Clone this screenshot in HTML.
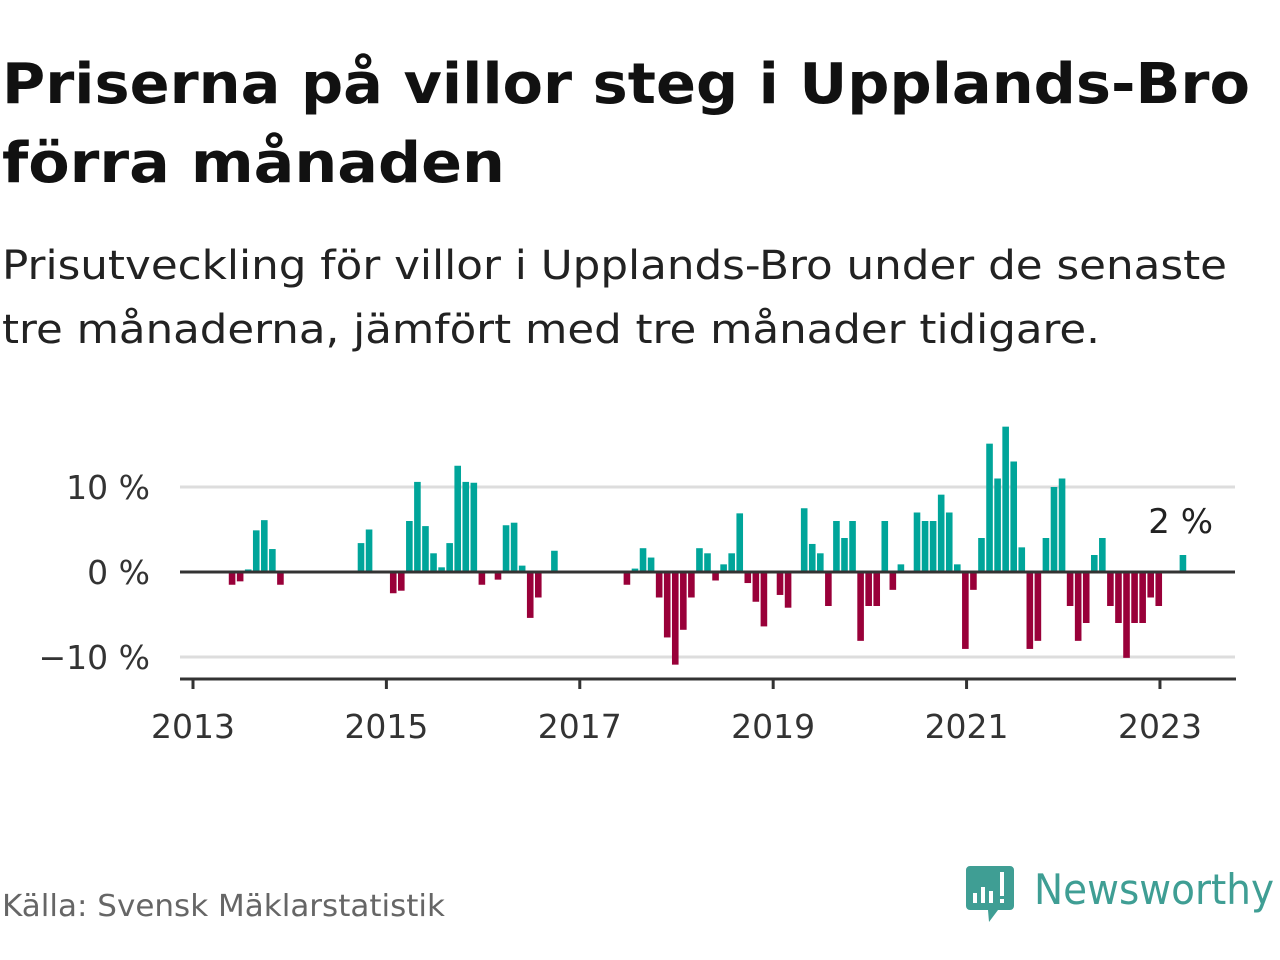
<!DOCTYPE html>
<html><head><meta charset="utf-8"><style>
html,body{margin:0;padding:0;background:#fff;width:1280px;height:960px;overflow:hidden}
body{font-family:"DejaVu Sans","Liberation Sans",sans-serif;color:#111}
</style></head><body>
<svg width="1280" height="960" xmlns="http://www.w3.org/2000/svg" font-family="DejaVu Sans, Liberation Sans, sans-serif">
<text x="2" y="103" font-size="56" font-weight="bold" fill="#111" textLength="1248" lengthAdjust="spacingAndGlyphs">Priserna på villor steg i Upplands-Bro</text>
<text x="2" y="182" font-size="56" font-weight="bold" fill="#111" textLength="503" lengthAdjust="spacingAndGlyphs">förra månaden</text>
<text x="2" y="279" font-size="40" fill="#222" textLength="1225" lengthAdjust="spacingAndGlyphs">Prisutveckling för villor i Upplands-Bro under de senaste</text>
<text x="2" y="343" font-size="40" fill="#222" textLength="1098" lengthAdjust="spacingAndGlyphs">tre månaderna, jämfört med tre månader tidigare.</text>
<g id="grid"></g>
<g id="bars"></g>
<g id="axes"></g>
<text x="1213" y="533" font-size="34" fill="#222" text-anchor="end">2 %</text>
<text x="2" y="916" font-size="30" fill="#666" textLength="443" lengthAdjust="spacingAndGlyphs">Källa: Svensk Mäklarstatistik</text>
<g>
<path d="M970 866 H1010 a4 4 0 0 1 4 4 V906 a4 4 0 0 1 -4 4 H998 L989 922 L988 910 H970 a4 4 0 0 1 -4 -4 V870 a4 4 0 0 1 4 -4Z" fill="#3f9e94"/>
<rect x="973" y="893" width="4" height="10" fill="#fff"/><rect x="981" y="887" width="4" height="16" fill="#fff"/><rect x="989" y="891" width="4" height="12" fill="#fff"/><rect x="1000" y="872" width="4" height="24" fill="#fff"/><rect x="1000" y="899" width="4" height="4" fill="#fff"/>
<text x="1034" y="904" font-size="42" fill="#3f9e94" textLength="240" lengthAdjust="spacingAndGlyphs">Newsworthy</text>
</g>
</svg>
<script>
const months=[5,6,7,8,9,10,11,21,22,25,26,27,28,29,30,31,32,33,34,35,36,38,39,40,41,42,43,45,54,55,56,57,58,59,60,61,62,63,64,65,66,67,68,69,70,71,73,74,76,77,78,79,80,81,82,83,84,85,86,87,88,90,91,92,93,94,95,96,97,98,99,100,101,102,103,104,105,106,107,108,109,110,111,112,113,114,115,116,117,118,119,120,123];
const values=[-1.5,-1.1,0.3,4.9,6.1,2.7,-1.5,3.4,5.0,-2.5,-2.2,6.0,10.6,5.4,2.2,0.55,3.4,12.5,10.6,10.5,-1.5,-0.9,5.5,5.8,0.75,-5.4,-3.0,2.5,-1.5,0.4,2.8,1.7,-3.0,-7.7,-10.9,-6.8,-3.0,2.8,2.2,-1.0,0.9,2.2,6.9,-1.3,-3.5,-6.4,-2.7,-4.2,7.5,3.3,2.2,-4.0,6.0,4.0,6.0,-8.1,-4.0,-4.0,6.0,-2.1,0.9,7.0,6.0,6.0,9.1,7.0,0.9,-9.05,-2.1,4.0,15.1,11.0,17.1,13.0,2.9,-9.05,-8.1,4.0,10.0,11.0,-4.0,-8.1,-6.0,2.0,4.0,-4.0,-6.0,-10.1,-6.0,-6.0,-3.0,-4.0,2.0];
const yTicks=[10,0,-10];
const yTickLabels=["10 %","0 %","\u221210 %"];
const xTickYears=[2013,2015,2017,2019,2021,2023];
const NS='http://www.w3.org/2000/svg';
const X0=193,MW=8.058,Y0=572,YS=8.5;
function xScale(m){return X0+(m-0.15)*MW;}
function xYear(y){return X0+(y-2013)*12*MW;}
function yScale(v){return Y0-v*YS;}
function mk(t,a,p){const e=document.createElementNS(NS,t);for(const k in a)e.setAttribute(k,a[k]);p.appendChild(e);return e;}
const grid=document.getElementById('grid'),bars=document.getElementById('bars'),axes=document.getElementById('axes');
yTicks.forEach((v,i)=>{
 if(v!==0){const l=mk('line',{x1:180,x2:1235,y1:yScale(v),y2:yScale(v),stroke:'#ddd','stroke-width':3},grid);
 
 }
 const t=mk('text',{x:150,y:yScale(v)+12,'font-size':33,'text-anchor':'end',fill:'#333'},axes);
 t.textContent=yTickLabels[i];
 
 
});
months.forEach((m,i)=>{
 const v=values[i];const y=yScale(Math.max(v,0));const h=Math.abs(v)*YS;
 const r=mk('rect',{x:xScale(m)-3.3,y:y,width:6.6,height:h,fill:v>=0?'#00a59a':'#990039'},bars);
 
 
});
const z=mk('line',{x1:180,x2:1235,y1:Y0,y2:Y0,stroke:'#333','stroke-width':3},axes);


const ax=mk('line',{x1:180,x2:1236,y1:679,y2:679,stroke:'#333','stroke-width':3},axes);


xTickYears.forEach(yr=>{
 const x=xYear(yr);
 const tk=mk('line',{x1:x,x2:x,y1:679,y2:689,stroke:'#333','stroke-width':3},axes);
 
 
 const t=mk('text',{x:x,y:738,'font-size':33,'text-anchor':'middle',fill:'#333'},axes);
 t.textContent=yr;
 
 
});
</script>
</body></html>
